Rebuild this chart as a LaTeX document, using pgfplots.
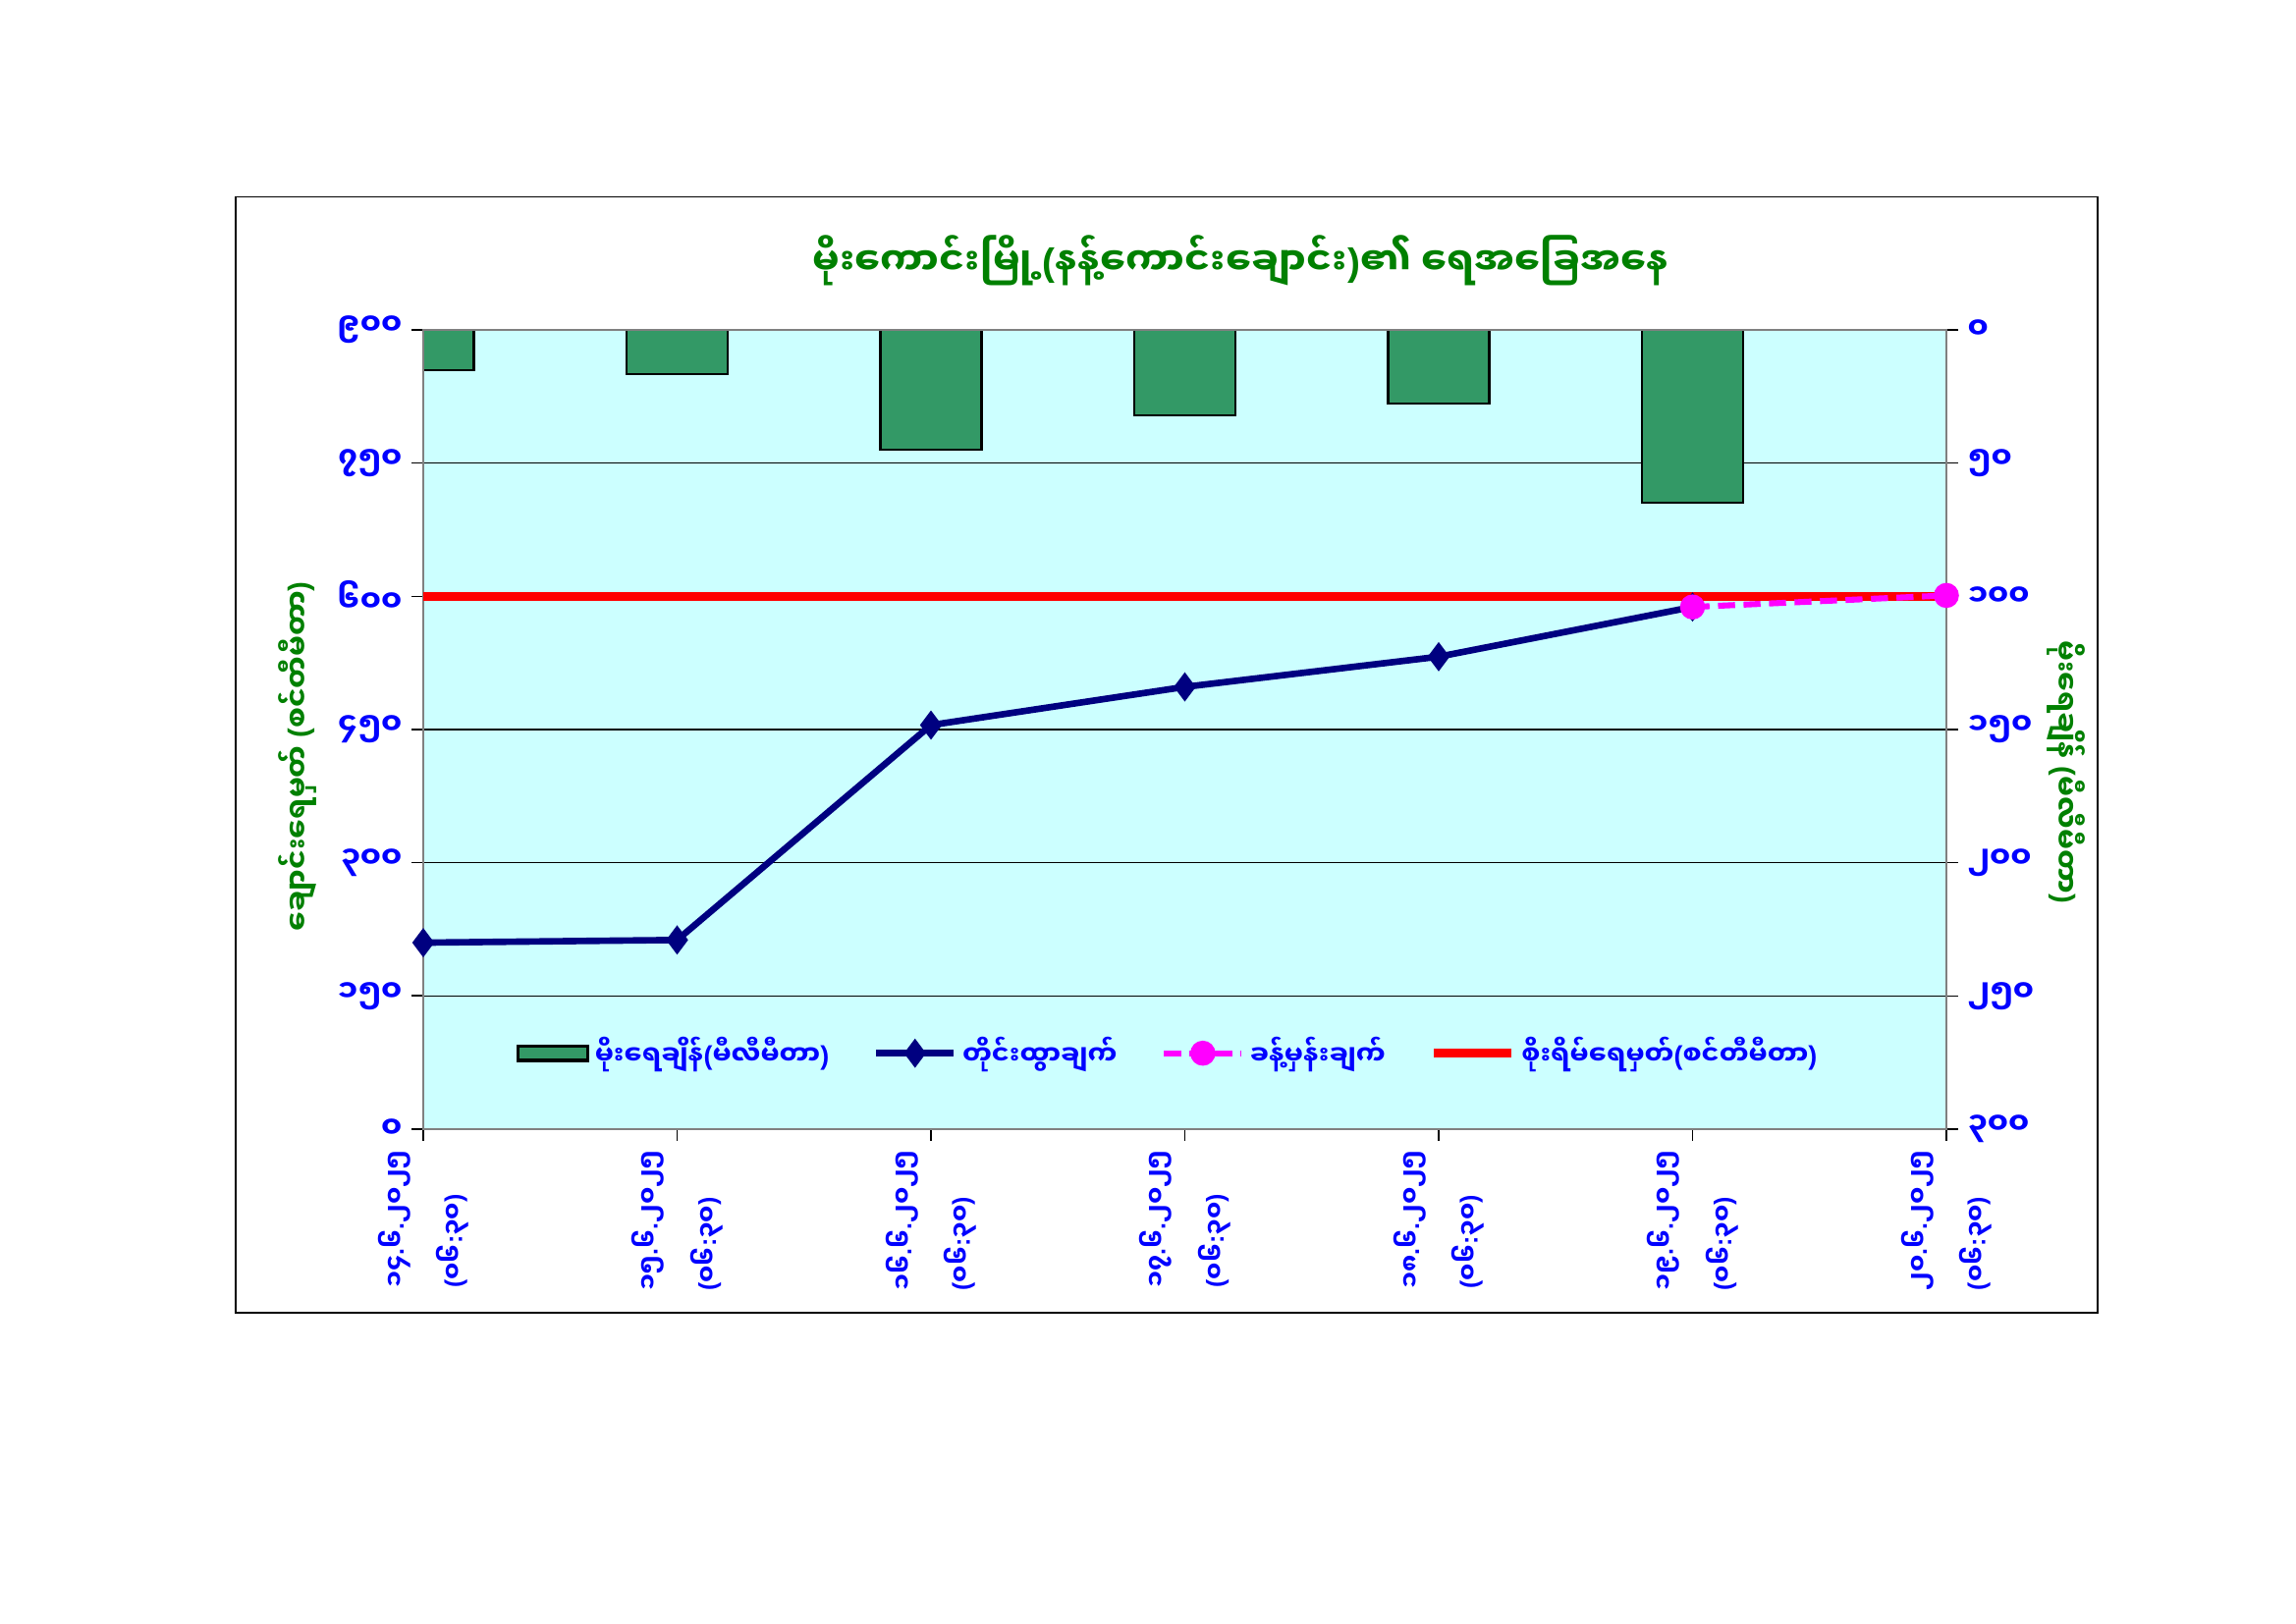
\documentclass[border=0pt]{standalone}
\usepackage{pgfplots}
\pgfplotsset{compat=1.18}
\usepackage{fontspec}
\newfontfamily\mm[Script=Myanmar]{Noto Sans Myanmar UI}
\newfontfamily\pn{Liberation Sans}
\newcommand\LP{{\pn(}}
\newcommand\RP{{\pn)}}
\newcommand\DT{{\pn.}}
\newcommand\CL{{\pn:}}
\definecolor{bargreen}{HTML}{339966}
\definecolor{bgcyan}{HTML}{CCFFFF}
\definecolor{navyline}{HTML}{000080}
\definecolor{titlegreen}{HTML}{008000}
\definecolor{tickblue}{HTML}{0000FF}
\definecolor{framegray}{HTML}{808080}
\definecolor{mag}{HTML}{FF00FF}

\pgfplotsset{
  common/.style={
    at={(5.4737cm,6.4008cm)}, anchor=south west,
    scale only axis, width=19.6977cm, height=10.3378cm,
    xmin=0, xmax=6,
    axis line style={framegray, line width=1pt},
    tick align=outside,
    major tick length=0.15cm,
    tick style={black, line width=0.6pt},
    yticklabel style={font=\mm\bfseries\fontsize{11}{13}\selectfont, text=tickblue},
  },
  barlegend/.style={legend image code/.code={\draw[fill=bargreen,draw=black,line width=1.2pt] (0cm,-0.095cm) rectangle (0.9cm,0.095cm);}},
  linelegend/.style={legend image code/.code={\draw[mark repeat=2, mark phase=2, ##1] plot coordinates {(0cm,0cm)(0.5cm,0cm)(1.0cm,0cm)};}},
}

\begin{document}
\begin{tikzpicture}
\path[use as bounding box, fill=white] (0,0) rectangle (29.6926,21.0058);
\draw[black, line width=0.6pt] ({240*0.0127},{(1654-200)*0.0127}) rectangle ({2137*0.0127},{(1654-1337)*0.0127});

\begin{axis}[common,
  ymin=0, ymax=300, y dir=reverse,
  ytick={0,50,...,300}, yticklabels={၀,၅၀,၁၀၀,၁၅၀,၂၀၀,၂၅၀,၃၀၀},
  ytick pos=right, xtick=\empty,
  ymajorgrids, grid style={black, line width=0.5pt},
  axis background/.style={fill=bgcyan},
  ybar, bar width=1.308cm]
\addplot[fill=bargreen, draw=black, line width=0.8pt] coordinates {(0,15)(1,16.5)(2,45)(3,32)(4,27.5)(5,65)};
\end{axis}

\begin{axis}[common,
  ymin=0, ymax=900,
  ytick={0,150,...,900}, yticklabels={၀,၁၅၀,၃၀၀,၄၅၀,၆၀၀,၇၅၀,၉၀၀},
  ytick pos=left,
  xtick={0,...,6}, xtick pos=bottom,
  xticklabels={{၁၄\DT၆\DT၂၀၂၅\\\LP၀၆\CL၃၀\RP},{၁၅\DT၆\DT၂၀၂၅\\\LP၀၆\CL၃၀\RP},{၁၆\DT၆\DT၂၀၂၅\\\LP၀၆\CL၃၀\RP},{၁၇\DT၆\DT၂၀၂၅\\\LP၀၆\CL၃၀\RP},{၁၈\DT၆\DT၂၀၂၅\\\LP၀၆\CL၃၀\RP},{၁၉\DT၆\DT၂၀၂၅\\\LP၀၆\CL၃၀\RP},{၂၀\DT၆\DT၂၀၂၅\\\LP၀၆\CL၃၀\RP}},
  xticklabel style={rotate=90, anchor=east, align=left, font=\mm\bfseries\fontsize{9}{21.5}\selectfont, text=tickblue},
  legend columns=4,
  legend cell align=left,
  legend style={at={(0.49,0.095)}, anchor=center, draw=none, fill=none,
    font=\mm\bfseries\fontsize{9.7}{11}\selectfont, text=tickblue,
    /tikz/every even column/.append style={column sep=0.5cm}},
]
\addlegendimage{barlegend}
\addlegendentry{မိုးရေချိန်\LP မီလီမီတာ\RP}
\addplot[red, line width=3.4pt, forget plot] coordinates {(0,600)(6,600)};
\addplot[navyline, line width=2.4pt, mark=diamond*, mark size=3.4pt, mark options={solid, fill=navyline}, linelegend] coordinates {(0,210)(1,213)(2,455)(3,498)(4,532)(5,588)};
\addlegendentry{တိုင်းထွာချက်}
\addplot[mag, line width=2.2pt, dash pattern=on 2.2mm off 1.1mm, mark=*, mark size=3.5pt, mark options={solid, fill=mag}, linelegend] coordinates {(5,588)(6,601)};
\addlegendentry{ခန့်မှန်းချက်}
\addlegendimage{red, line width=3.4pt, linelegend}
\addlegendentry{စိုးရိမ်ရေမှတ်\LP စင်တီမီတာ\RP}
\end{axis}

\node[font=\mm\bfseries\fontsize{14}{17}\selectfont, text=titlegreen] at ({1264*0.0127},{(1654-265)*0.0127}) {မိုးကောင်းမြို့\LP နန့်ကောင်းချောင်း\RP ၏ ရေအခြေအနေ};
\node[rotate=90, font=\mm\bfseries\fontsize{10.6}{13}\selectfont, text=titlegreen] at ({303*0.0127},{(1654-770)*0.0127}) {ချောင်းရေမှတ် \LP စင်တီမီတာ\RP};
\node[rotate=-90, font=\mm\bfseries\fontsize{10.6}{13}\selectfont, text=titlegreen] at ({2105*0.0127},{(1654-786)*0.0127}) {မိုးရေချိန် \LP မီလီမီတာ\RP};
\end{tikzpicture}
\end{document}
